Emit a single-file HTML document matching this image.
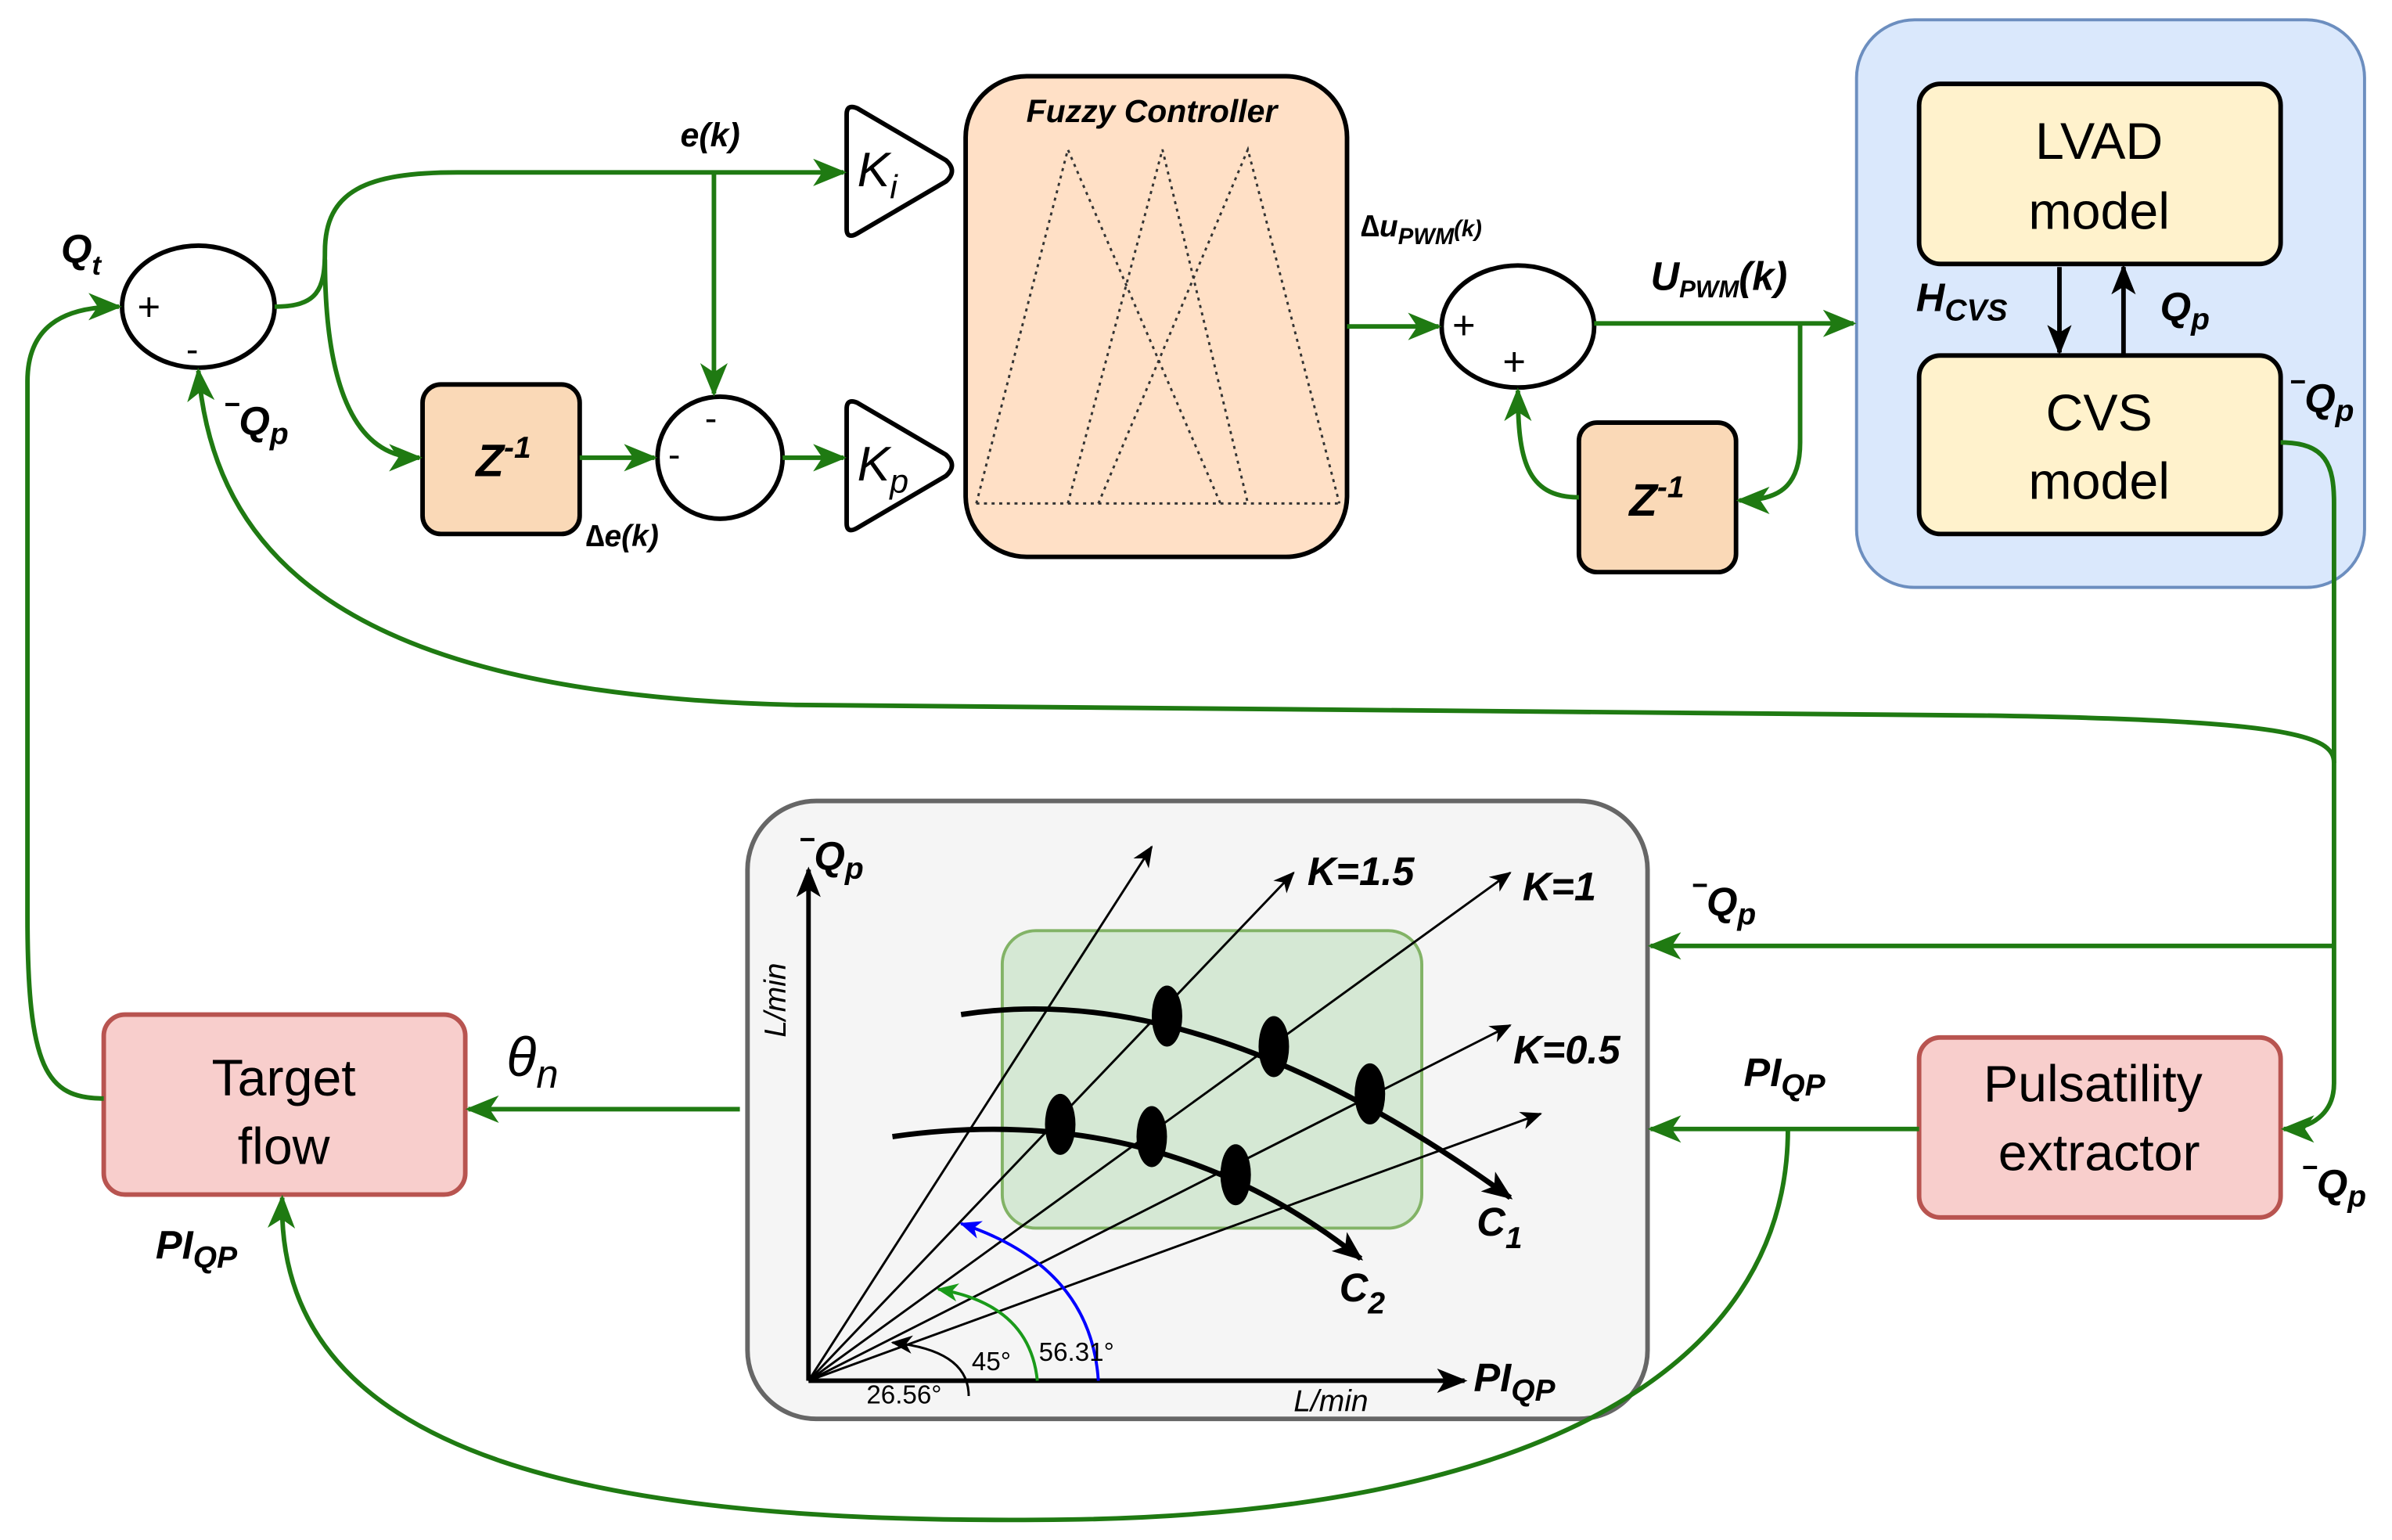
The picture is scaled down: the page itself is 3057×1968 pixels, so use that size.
<!DOCTYPE html>
<html><head><meta charset="utf-8"><style>
html,body{margin:0;padding:0;background:#fff;}
svg{display:block;}
text{font-family:"Liberation Sans",sans-serif;}
</style></head><body>
<svg width="3057" height="1968" viewBox="0 0 1568 1009.4" preserveAspectRatio="none" xmlns="http://www.w3.org/2000/svg">
<defs>
<marker id="g" markerWidth="10" markerHeight="10" refX="9" refY="5" orient="auto" markerUnits="userSpaceOnUse"><path d="M0,0 L20,5 L0,10 L5,5 Z" fill="#1f7a12" transform="scale(0.5,1) translate(0,0)"/></marker>
<marker id="ga" markerWidth="22" markerHeight="18" refX="20" refY="9" orient="auto" markerUnits="userSpaceOnUse"><path d="M0,0 L22,9 L0,18 L6,9 Z" fill="#1f7a12"/></marker>
<marker id="ba" markerWidth="20" markerHeight="16" refX="18" refY="8" orient="auto" markerUnits="userSpaceOnUse"><path d="M0,0 L20,8 L0,16 L5,8 Z" fill="#000"/></marker>
<marker id="bs" markerWidth="14" markerHeight="12" refX="13" refY="6" orient="auto" markerUnits="userSpaceOnUse"><path d="M0,0 L14,6 L0,12 L4,6 Z" fill="#000"/></marker>
<marker id="bl" markerWidth="14" markerHeight="12" refX="13" refY="6" orient="auto" markerUnits="userSpaceOnUse"><path d="M0,0 L14,6 L0,12 L4,6 Z" fill="#0000ff"/></marker>
<marker id="gr" markerWidth="14" markerHeight="12" refX="13" refY="6" orient="auto" markerUnits="userSpaceOnUse"><path d="M0,0 L14,6 L0,12 L4,6 Z" fill="#1a9a1a"/></marker>
</defs>

<!-- boxes -->
<rect x="1217" y="13" width="333" height="372" rx="38" fill="#dae8fc" stroke="#6c8ebf" stroke-width="2"/>
<rect x="1258" y="55" width="237" height="118" rx="14" fill="#fff2cc" stroke="#000" stroke-width="3"/>
<rect x="1258" y="233" width="237" height="117" rx="14" fill="#fff2cc" stroke="#000" stroke-width="3"/>
<text x="1376" y="104" font-size="34" text-anchor="middle">LVAD</text>
<text x="1376" y="150" font-size="34" text-anchor="middle">model</text>
<text x="1376" y="282" font-size="34" text-anchor="middle">CVS</text>
<text x="1376" y="327" font-size="34" text-anchor="middle">model</text>

<rect x="633" y="50" width="250" height="315" rx="40" fill="#ffe0c6" stroke="#000" stroke-width="3"/>
<text x="755" y="80" font-size="21" font-weight="bold" font-style="italic" text-anchor="middle">Fuzzy Controller</text>
<g fill="none" stroke="#333" stroke-width="1.5" stroke-dasharray="2,3">
<path d="M640,330 L878,330"/>
<path d="M640,330 L700,98 L800,330"/>
<path d="M700,330 L762,98 L818,330"/>
<path d="M720,330 L818,98 L878,330"/>
</g>

<rect x="277" y="252" width="103" height="98" rx="12" fill="#fad9b7" stroke="#000" stroke-width="3"/>
<text x="312" y="312" font-size="30" font-weight="bold" font-style="italic">Z<tspan font-size="20" dy="-12">-1</tspan></text>
<rect x="1035" y="277" width="103" height="98" rx="12" fill="#fad9b7" stroke="#000" stroke-width="3"/>
<text x="1068" y="338" font-size="30" font-weight="bold" font-style="italic">Z<tspan font-size="20" dy="-12">-1</tspan></text>

<rect x="490" y="525" width="590" height="405" rx="45" fill="#f5f5f5" stroke="#666" stroke-width="3"/>
<rect x="657" y="610" width="275" height="195" rx="22" fill="#d5e8d4" stroke="#82b366" stroke-width="2"/>

<rect x="68" y="665" width="237" height="118" rx="14" fill="#f8cecc" stroke="#b85450" stroke-width="3"/>
<text x="186" y="718" font-size="34" text-anchor="middle">Target</text>
<text x="186" y="763" font-size="34" text-anchor="middle">flow</text>
<rect x="1258" y="680" width="237" height="118" rx="14" fill="#f8cecc" stroke="#b85450" stroke-width="3"/>
<text x="1372" y="722" font-size="34" text-anchor="middle">Pulsatility</text>
<text x="1376" y="767" font-size="34" text-anchor="middle">extractor</text>

<!-- sums -->
<ellipse cx="130" cy="201" rx="50" ry="40" fill="#fff" stroke="#000" stroke-width="3"/>
<text x="90" y="210" font-size="26">+</text><text x="122" y="237" font-size="24">-</text>
<ellipse cx="472" cy="300" rx="41" ry="40" fill="#fff" stroke="#000" stroke-width="3"/>
<text x="462" y="282" font-size="24">-</text><text x="438" y="306" font-size="24">-</text>
<ellipse cx="995" cy="214" rx="50" ry="40" fill="#fff" stroke="#000" stroke-width="3"/>
<text x="952" y="222" font-size="26">+</text><text x="985" y="246" font-size="26">+</text>

<!-- gains -->
<path d="M555,75 Q555,68 562,71 L620,105 Q628,112 620,119 L562,153 Q555,157 555,150 Z" fill="#fff" stroke="#000" stroke-width="3"/>
<text x="562" y="122" font-size="32" font-style="italic" font-family="Liberation Serif">K<tspan font-size="22" dy="8">i</tspan></text>
<path d="M555,268 Q555,261 562,264 L620,298 Q628,305 620,312 L562,346 Q555,350 555,343 Z" fill="#fff" stroke="#000" stroke-width="3"/>
<text x="562" y="315" font-size="32" font-style="italic" font-family="Liberation Serif">K<tspan font-size="22" dy="8">p</tspan></text>

<!-- green connectors -->
<g fill="none" stroke="#1f7a12" stroke-width="3">
<path d="M180,201 C208,201 213,190 213,165 C213,125 240,113 300,113 L553,113" marker-end="url(#ga)"/>
<path d="M213,170 C213,235 225,300 275,300" marker-end="url(#ga)"/>
<path d="M468,113 L468,258" marker-end="url(#ga)"/>
<path d="M380,300 L429,300" marker-end="url(#ga)"/>
<path d="M513,300 L553,300" marker-end="url(#ga)"/>
<path d="M883,214 L943,214" marker-end="url(#ga)"/>
<path d="M1045,212 L1215,212" marker-end="url(#ga)"/>
<path d="M1180,212 L1180,290 C1180,320 1165,328 1140,328" marker-end="url(#ga)"/>
<path d="M1035,326 C1000,326 995,300 995,256" marker-end="url(#ga)"/>
<path d="M1495,290 C1525,290 1530,305 1530,330 L1530,710 C1530,730 1515,740 1497,740" marker-end="url(#ga)"/>
<path d="M1530,500 C1530,482 1500,472 1300,469 L520,462 C220,455 140,360 130,243" marker-end="url(#ga)"/>
<path d="M1530,620 L1082,620" marker-end="url(#ga)"/>
<path d="M1258,740 L1082,740" marker-end="url(#ga)"/>
<path d="M1172,740 C1172,900 1000,992 700,996 C400,1000 180,960 185,785" marker-end="url(#ga)"/>
<path d="M485,727 L307,727" marker-end="url(#ga)"/>
<path d="M68,720 C30,720 18,700 18,600 L18,250 C18,215 40,201 78,201" marker-end="url(#ga)"/>
</g>
<!-- black arrows LVAD/CVS -->
<path d="M1350,175 L1350,231" stroke="#000" stroke-width="3" marker-end="url(#ba)"/>
<path d="M1392,233 L1392,175" stroke="#000" stroke-width="3" marker-end="url(#ba)"/>

<!-- labels -->
<g font-weight="bold" font-style="italic">
<text x="40" y="172" font-size="26">Q<tspan font-size="18" dy="8">t</tspan></text>
<text x="148" y="285" font-size="26">‾Q<tspan font-size="20" dy="6">p</tspan></text>
<text x="446" y="96" font-size="22">e(k)</text>
<text x="384" y="358" font-size="20">∆e(k)</text>
<text x="892" y="155" font-size="20">∆u<tspan font-size="15" dy="5">PWM</tspan><tspan font-size="15" dy="-5">(k)</tspan></text>
<text x="1082" y="190" font-size="26">U<tspan font-size="16" dy="5">PWM</tspan><tspan dy="-5">(k)</tspan></text>
<text x="1256" y="204" font-size="26">H<tspan font-size="20" dy="6">CVS</tspan></text>
<text x="1416" y="210" font-size="26">Q<tspan font-size="20" dy="6">p</tspan></text>
<text x="1502" y="270" font-size="26">‾Q<tspan font-size="20" dy="6">p</tspan></text>
<text x="1110" y="600" font-size="26">‾Q<tspan font-size="20" dy="6">p</tspan></text>
<text x="1143" y="712" font-size="26">PI<tspan font-size="20" dy="6">QP</tspan></text>
<text x="1510" y="785" font-size="26">‾Q<tspan font-size="20" dy="6">p</tspan></text>
<text x="102" y="825" font-size="26">PI<tspan font-size="20" dy="6">QP</tspan></text>
</g>
<text x="332" y="705" font-size="36" font-style="italic" font-family="Liberation Serif">θ<tspan font-size="26" dy="8">n</tspan></text>

<!-- plot internals -->
<g stroke="#000" stroke-width="1.5" fill="none">
<path d="M530,905 L755,555" marker-end="url(#bs)"/>
<path d="M530,905 L848,572" marker-end="url(#bs)"/>
<path d="M530,905 L990,572" marker-end="url(#bs)"/>
<path d="M530,905 L990,672" marker-end="url(#bs)"/>
<path d="M530,905 L1010,730" marker-end="url(#bs)"/>
</g>
<path d="M530,905 L530,570" stroke="#000" stroke-width="3" marker-end="url(#ba)"/>
<path d="M530,905 L960,905" stroke="#000" stroke-width="3" marker-end="url(#ba)"/>
<path d="M630,665 Q790,640 990,785" stroke="#000" stroke-width="3.5" fill="none" marker-end="url(#ba)"/>
<path d="M585,745 Q760,720 892,825" stroke="#000" stroke-width="3.5" fill="none" marker-end="url(#ba)"/>
<g fill="#000">
<ellipse cx="765" cy="666" rx="10" ry="20"/><ellipse cx="835" cy="686" rx="10" ry="20"/><ellipse cx="898" cy="717" rx="10" ry="20"/>
<ellipse cx="695" cy="737" rx="10" ry="20"/><ellipse cx="755" cy="745" rx="10" ry="20"/><ellipse cx="810" cy="770" rx="10" ry="20"/>
</g>
<path d="M720,905 Q715,830 630,802" stroke="#0000ff" stroke-width="2" fill="none" marker-end="url(#bl)"/>
<path d="M680,905 Q675,855 615,845" stroke="#1a9a1a" stroke-width="2" fill="none" marker-end="url(#gr)"/>
<path d="M635,915 Q635,885 585,880" stroke="#000" stroke-width="1.5" fill="none" marker-end="url(#bs)"/>
<g font-family="Liberation Serif" font-size="17">
<text x="637" y="898">45°</text><text x="681" y="892">56.31°</text><text x="568" y="920">26.56°</text>
</g>
<g font-weight="bold" font-style="italic">
<text x="525" y="570" font-size="26">‾Q<tspan font-size="20" dy="6">p</tspan></text>
<text x="857" y="580" font-size="26">K=1.5</text>
<text x="998" y="590" font-size="26">K=1</text>
<text x="992" y="697" font-size="26">K=0.5</text>
<text x="968" y="810" font-size="26">C<tspan font-size="20" dy="8">1</tspan></text>
<text x="878" y="853" font-size="26">C<tspan font-size="20" dy="8">2</tspan></text>
<text x="966" y="912" font-size="26">PI<tspan font-size="20" dy="6">QP</tspan></text>
<text x="848" y="925" font-size="20" font-weight="normal">L/min</text>
<text transform="translate(515,680) rotate(-90)" font-size="20" font-weight="normal">L/min</text>
</g>
</svg>
</body></html>
